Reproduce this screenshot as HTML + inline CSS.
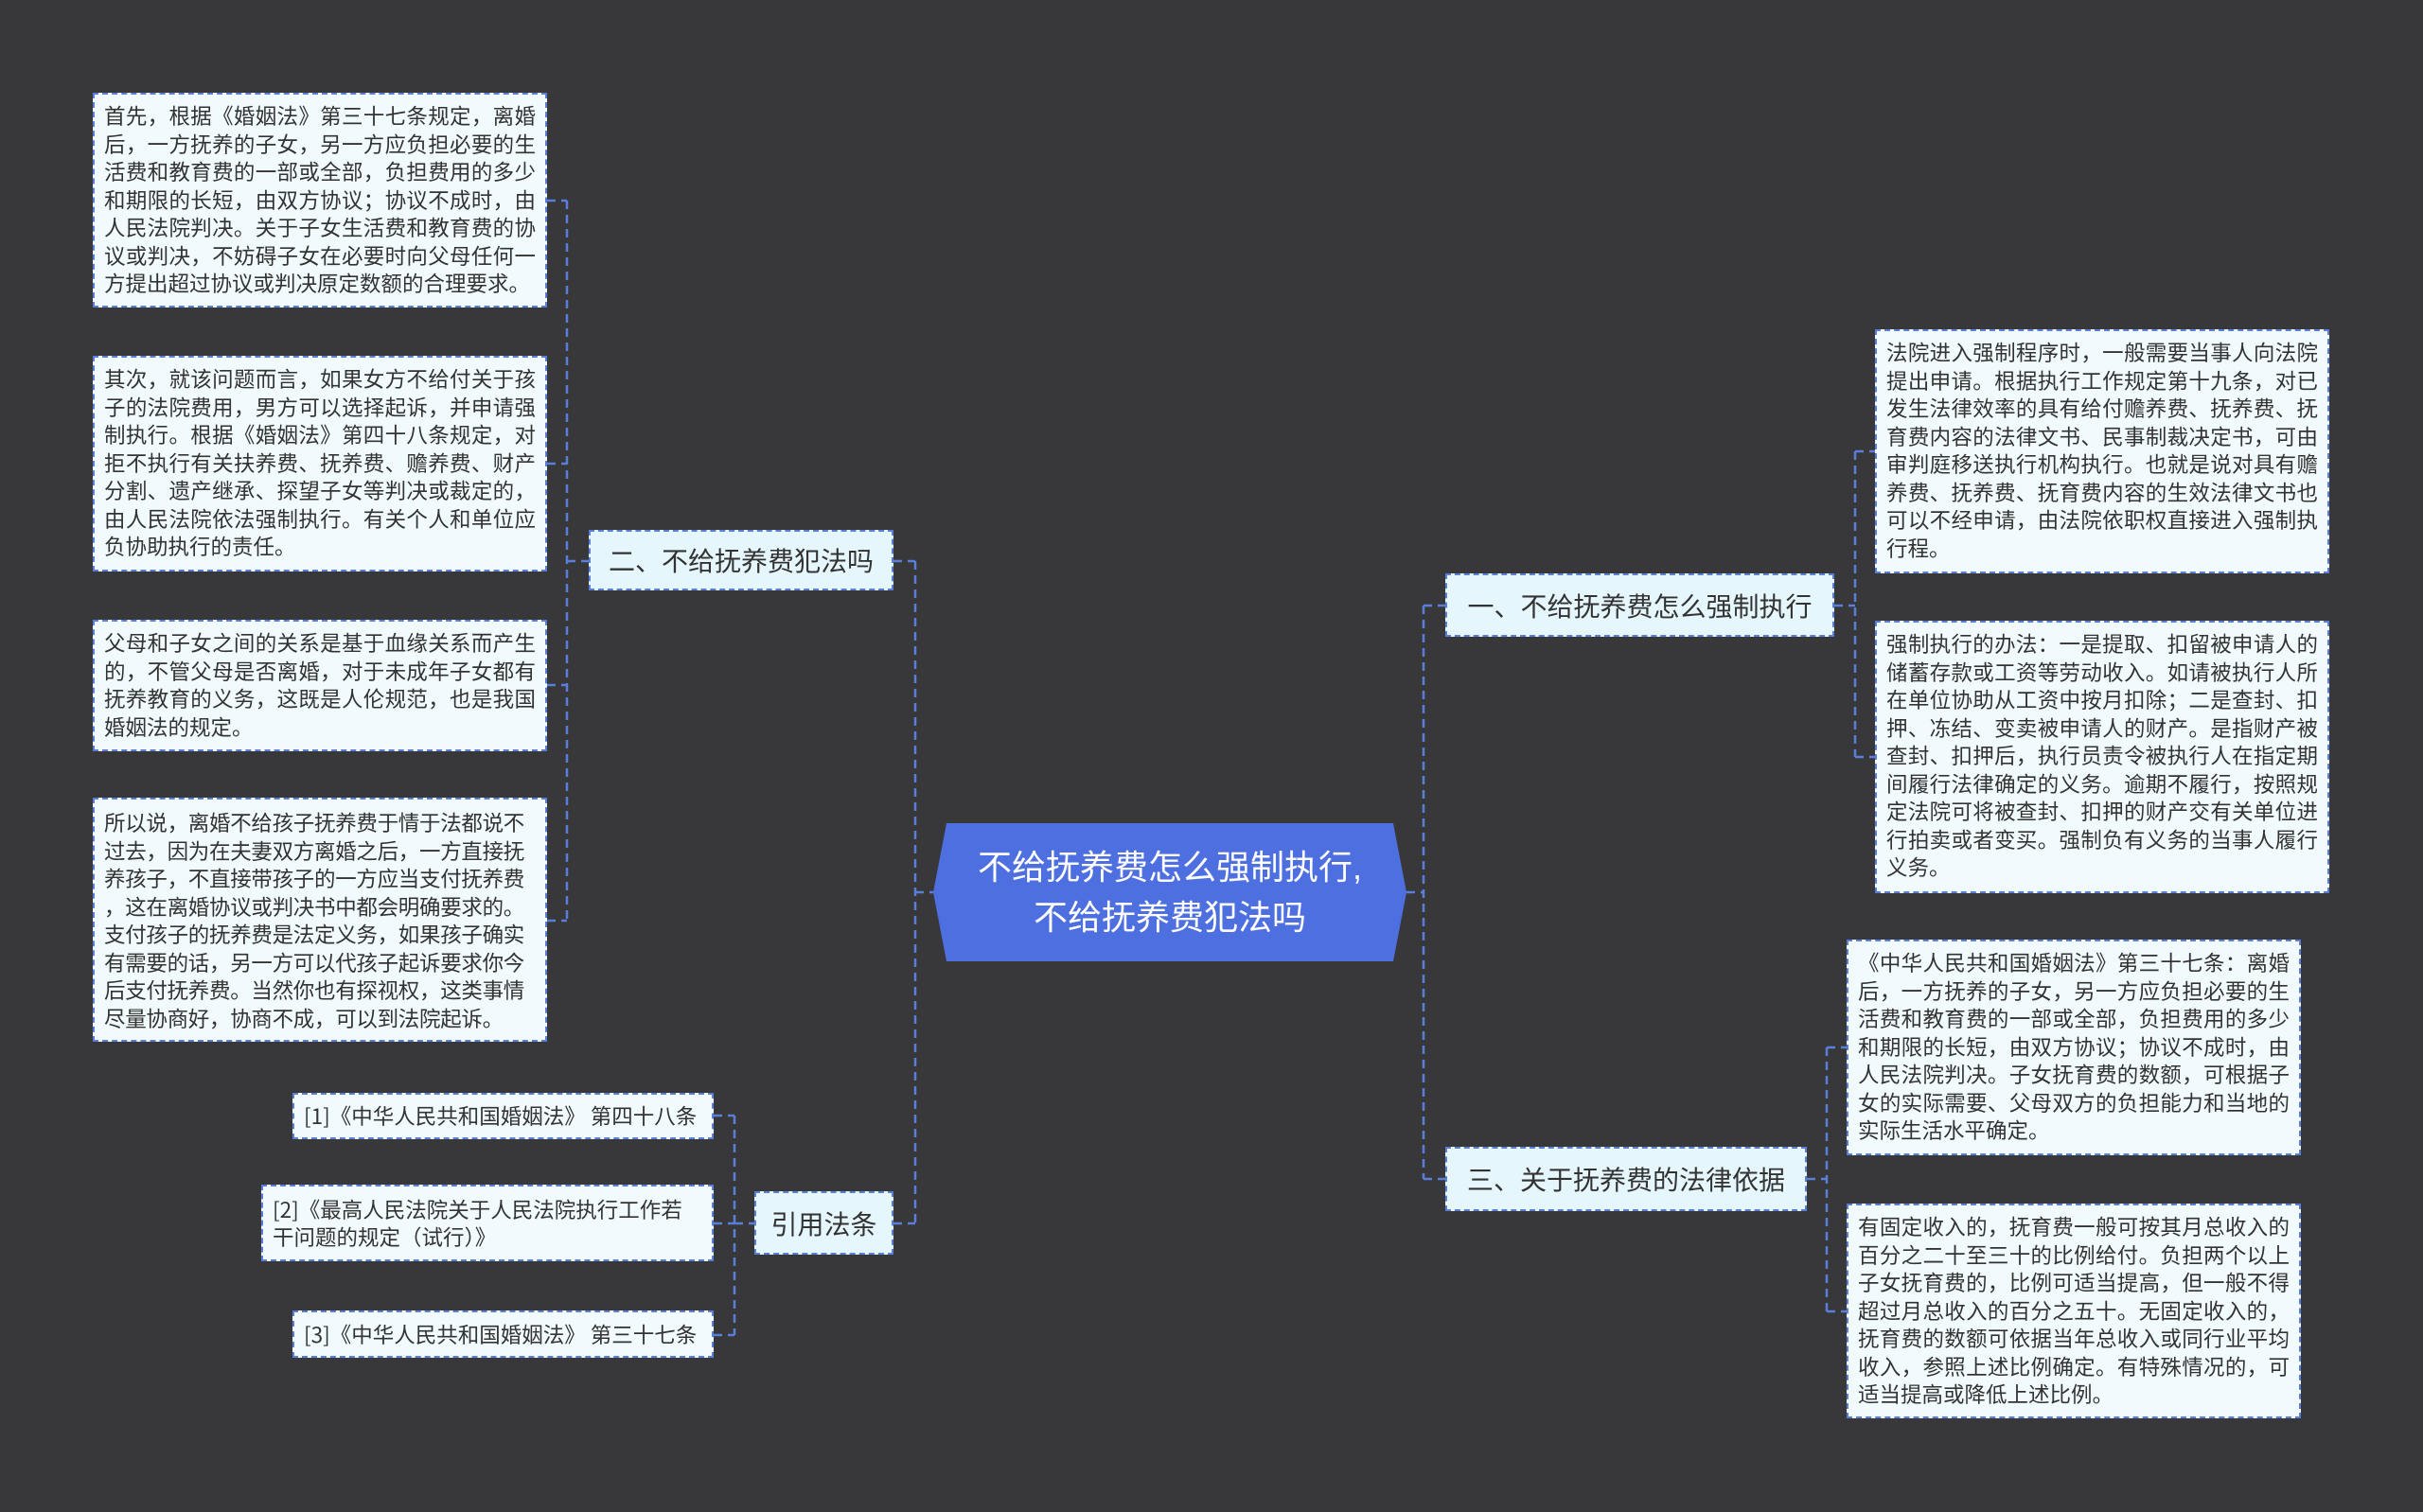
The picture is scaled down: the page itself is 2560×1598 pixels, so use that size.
<!DOCTYPE html>
<html><head><meta charset="utf-8"><style>
body{margin:0;width:2560px;height:1598px;background:#38373a;position:relative;overflow:hidden;font-family:"Liberation Sans","Noto Sans CJK SC",sans-serif}
.l{position:absolute;box-sizing:border-box;background:#f1fbfe;border:2px dashed #5a7fd8;color:#333;font-family:"Noto Sans CJK SC",sans-serif;font-size:22.5px;line-height:29.5px;padding:8px 10px;text-align:justify}
.b{position:absolute;box-sizing:border-box;background:#e6f6fd;border:2px dashed #5a7fd8;color:#333;font-size:28px;display:flex;align-items:center;justify-content:center;white-space:nowrap}
.r{position:absolute;box-sizing:border-box;background:#f1fbfe;border:2px dashed #5a7fd8;color:#333;font-family:"Noto Sans CJK SC",sans-serif;font-size:22.5px;line-height:29px;padding:6px 10px;display:flex;align-items:center}
</style></head><body>
<svg width="2560" height="1598" style="position:absolute;left:0;top:0">
<g stroke="#5a7fd8" stroke-width="2.5" stroke-dasharray="9,6" fill="none">
<path d="M967 593V1293M944 593H967M944 1293H967M967 943H986"/>
<path d="M599 212V973M578 212H599M578 490H599M578 724H599M578 973H599M599 593H622"/>
<path d="M776 1179V1411M754 1179H776M754 1293H776M754 1411H776M776 1293H797"/>
<path d="M1504 640V1246M1486 943H1504M1504 640H1527M1504 1246H1527"/>
<path d="M1960 477V800M1938 640H1960M1960 477H1981M1960 800H1981"/>
<path d="M1930 1107V1386M1909 1246H1930M1930 1107H1951M1930 1386H1951"/>
</g></svg>
<svg width="500" height="146" style="position:absolute;left:986px;top:870px"><polygon points="14,0 486,0 500,73 486,146 14,146 0,73" fill="#4d6fe0"/></svg>
<div style="position:absolute;left:986px;top:870px;width:500px;height:146px;display:flex;align-items:center;justify-content:center;text-align:center;color:#fff;font-size:36px;line-height:53px">不给抚养费怎么强制执行,<br>不给抚养费犯法吗</div>
<div class="l" style="left:98px;top:98px;width:480px;height:227px">首先，根据《婚姻法》第三十七条规定，离婚后，一方抚养的子女，另一方应负担必要的生活费和教育费的一部或全部，负担费用的多少和期限的长短，由双方协议；协议不成时，由人民法院判决。关于子女生活费和教育费的协议或判决，不妨碍子女在必要时向父母任何一方提出超过协议或判决原定数额的合理要求。</div>
<div class="l" style="left:98px;top:376px;width:480px;height:228px">其次，就该问题而言，如果女方不给付关于孩子的法院费用，男方可以选择起诉，并申请强制执行。根据《婚姻法》第四十八条规定，对拒不执行有关扶养费、抚养费、赡养费、财产分割、遗产继承、探望子女等判决或裁定的，由人民法院依法强制执行。有关个人和单位应负协助执行的责任。</div>
<div class="l" style="left:98px;top:655px;width:480px;height:139px">父母和子女之间的关系是基于血缘关系而产生的，不管父母是否离婚，对于未成年子女都有抚养教育的义务，这既是人伦规范，也是我国婚姻法的规定。</div>
<div class="l" style="left:98px;top:843px;width:480px;height:258px;white-space:nowrap;text-align:left;letter-spacing:-0.3px;padding-top:10px">所以说，离婚不给孩子抚养费于情于法都说不<br>过去，因为在夫妻双方离婚之后，一方直接抚<br>养孩子，不直接带孩子的一方应当支付抚养费<br>，这在离婚协议或判决书中都会明确要求的。<br>支付孩子的抚养费是法定义务，如果孩子确实<br>有需要的话，另一方可以代孩子起诉要求你今<br>后支付抚养费。当然你也有探视权，这类事情<br>尽量协商好，协商不成，可以到法院起诉。</div>
<div class="b" style="left:622px;top:560px;width:322px;height:64px">二、不给抚养费犯法吗</div>
<div class="b" style="left:797px;top:1259px;width:147px;height:67px">引用法条</div>
<div class="r" style="left:309px;top:1155px;width:445px;height:49px">[1]《中华人民共和国婚姻法》 第四十八条</div>
<div class="r" style="left:276px;top:1252px;width:478px;height:81px">[2]《最高人民法院关于人民法院执行工作若干问题的规定（试行）》</div>
<div class="r" style="left:309px;top:1385px;width:445px;height:50px">[3]《中华人民共和国婚姻法》 第三十七条</div>
<div class="b" style="left:1527px;top:606px;width:411px;height:67px">一、不给抚养费怎么强制执行</div>
<div class="b" style="left:1527px;top:1212px;width:382px;height:68px">三、关于抚养费的法律依据</div>
<div class="l" style="left:1981px;top:348px;width:480px;height:258px">法院进入强制程序时，一般需要当事人向法院提出申请。根据执行工作规定第十九条，对已发生法律效率的具有给付赡养费、抚养费、抚育费内容的法律文书、民事制裁决定书，可由审判庭移送执行机构执行。也就是说对具有赡养费、抚养费、抚育费内容的生效法律文书也可以不经申请，由法院依职权直接进入强制执行程。</div>
<div class="l" style="left:1981px;top:656px;width:480px;height:288px">强制执行的办法：一是提取、扣留被申请人的储蓄存款或工资等劳动收入。如请被执行人所在单位协助从工资中按月扣除；二是查封、扣押、冻结、变卖被申请人的财产。是指财产被查封、扣押后，执行员责令被执行人在指定期间履行法律确定的义务。逾期不履行，按照规定法院可将被查封、扣押的财产交有关单位进行拍卖或者变买。强制负有义务的当事人履行义务。</div>
<div class="l" style="left:1951px;top:993px;width:480px;height:228px">《中华人民共和国婚姻法》第三十七条：离婚后，一方抚养的子女，另一方应负担必要的生活费和教育费的一部或全部，负担费用的多少和期限的长短，由双方协议；协议不成时，由人民法院判决。子女抚育费的数额，可根据子女的实际需要、父母双方的负担能力和当地的实际生活水平确定。</div>
<div class="l" style="left:1951px;top:1272px;width:480px;height:227px">有固定收入的，抚育费一般可按其月总收入的百分之二十至三十的比例给付。负担两个以上子女抚育费的，比例可适当提高，但一般不得超过月总收入的百分之五十。无固定收入的，抚育费的数额可依据当年总收入或同行业平均收入，参照上述比例确定。有特殊情况的，可适当提高或降低上述比例。</div>
</body></html>
